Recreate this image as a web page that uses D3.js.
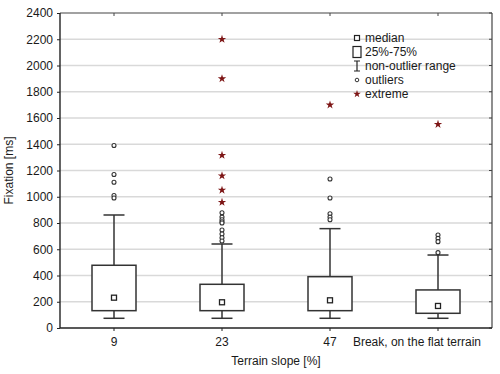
<!DOCTYPE html>
<html>
<head>
<meta charset="utf-8">
<script src="https://cdn.jsdelivr.net/npm/d3@7"></script>
<style>
  body { margin: 0; background: #fff; }
  text { font-family: "Liberation Sans", Arial, sans-serif; fill: #1a1a1a; }
</style>
</head>
<body>
<div id="chart"></div>
<script>
// Box plot data
var categories = ["9", "23", "47", "Break, on the flat terrain"];
var q1 = [132, 132, 132, 112];
var q3 = [478, 333, 391, 290];
var medians = [231, 196, 211, 168];
var whiskerLow = [74, 74, 74, 74];
var whiskerHigh = [861, 640, 757, 556];
var outliers = [
  [1390, 1170, 1110, 1010, 990],
  [878, 845, 825, 810, 800, 747, 716, 688, 663],
  [1135, 990, 870, 845, 825],
  [709, 683, 658, 574]
];
var extremes = [
  [],
  [2200, 1900, 1316, 1160, 1051, 958],
  [1700],
  [1552]
];
var yTicks = d3.range(0, 2401, 200);
var legendItems = ["median", "25%-75%", "non-outlier range", "outliers", "extreme"];

var width = 500;
var height = 374;
var margin = { top: 13, right: 8, bottom: 46, left: 60 };
var plotW = width - margin.left - margin.right;
var plotH = height - margin.top - margin.bottom;

var svg = d3.select("#chart")
  .append("svg")
  .attr("width", width)
  .attr("height", height);

var g = svg.append("g")
  .attr("transform", "translate(" + margin.left + "," + margin.top + ")");

var xScale = d3.scaleBand().domain(categories).range([0, plotW]).padding(0);
var yScale = d3.scaleLinear().domain([0, 2400]).range([plotH, 0]);

// Grid lines
g.append("g")
  .selectAll("line")
  .data(yTicks.filter(function(d) { return d > 0 && d < 2400; }))
  .enter()
  .append("line")
  .attr("x1", 0)
  .attr("x2", plotW)
  .attr("y1", function(d) { return yScale(d); })
  .attr("y2", function(d) { return yScale(d); })
  .attr("stroke", "#d9d9d9")
  .attr("stroke-width", 1.3);

// Frame (top and right)
g.append("line").attr("x1", 0).attr("x2", plotW).attr("y1", 0).attr("y2", 0)
  .attr("stroke", "#444").attr("stroke-width", 1.2);
g.append("line").attr("x1", plotW).attr("x2", plotW).attr("y1", 0).attr("y2", plotH)
  .attr("stroke", "#444").attr("stroke-width", 1.2);

// inward ticks on right and top
g.append("g").selectAll("line").data(yTicks).enter().append("line")
  .attr("x1", plotW - 3).attr("x2", plotW)
  .attr("y1", function(d) { return yScale(d); })
  .attr("y2", function(d) { return yScale(d); })
  .attr("stroke", "#444");
g.append("g").selectAll("line").data(categories).enter().append("line")
  .attr("x1", function(d) { return xScale(d) + xScale.bandwidth() / 2; })
  .attr("x2", function(d) { return xScale(d) + xScale.bandwidth() / 2; })
  .attr("y1", 0).attr("y2", 3)
  .attr("stroke", "#444");

// Axes
var yAxis = d3.axisLeft(yScale).tickValues(yTicks).tickFormat(d3.format("d")).tickSize(3).tickPadding(4);
var xAxis = d3.axisBottom(xScale).tickSize(3).tickPadding(6);

var yG = g.append("g").call(yAxis);
var xG = g.append("g").attr("transform", "translate(0," + plotH + ")").call(xAxis);

[yG, xG].forEach(function(a) {
  a.select(".domain").attr("stroke", "#222").attr("stroke-width", 1.4);
  a.selectAll(".tick line").attr("stroke", "#222");
  a.selectAll(".tick text")
    .attr("font-size", 12)
    .attr("font-family", "Liberation Sans, Arial, sans-serif")
    .attr("fill", "#1a1a1a");
});
yG.select(".domain").attr("d", "M0," + plotH + "V0");
xG.select(".domain").attr("d", "M0,0H" + plotW);

// long last label sits to the left of its tick
xG.selectAll(".tick text")
  .filter(function(d) { return d === categories[categories.length - 1]; })
  .attr("text-anchor", "end")
  .attr("x", 43);

// Box plots
var boxW = 44;
var capW = 21;
var stroke = "#333";

categories.forEach(function(c, i) {
  var cx = xScale(c) + xScale.bandwidth() / 2;
  var bg = g.append("g");

  // whisker line
  bg.append("line")
    .attr("x1", cx).attr("x2", cx)
    .attr("y1", yScale(whiskerHigh[i])).attr("y2", yScale(q3[i]))
    .attr("stroke", stroke).attr("stroke-width", 1.5);
  bg.append("line")
    .attr("x1", cx).attr("x2", cx)
    .attr("y1", yScale(q1[i])).attr("y2", yScale(whiskerLow[i]))
    .attr("stroke", stroke).attr("stroke-width", 1.5);
  // caps
  [whiskerHigh[i], whiskerLow[i]].forEach(function(v) {
    bg.append("line")
      .attr("x1", cx - capW / 2).attr("x2", cx + capW / 2)
      .attr("y1", yScale(v)).attr("y2", yScale(v))
      .attr("stroke", stroke).attr("stroke-width", 1.5);
  });
  // box
  bg.append("rect")
    .attr("x", cx - boxW / 2)
    .attr("y", yScale(q3[i]))
    .attr("width", boxW)
    .attr("height", yScale(q1[i]) - yScale(q3[i]))
    .attr("fill", "#fff")
    .attr("stroke", stroke)
    .attr("stroke-width", 1.5);
  // median
  bg.append("rect")
    .attr("x", cx - 2.5)
    .attr("y", yScale(medians[i]) - 2.5)
    .attr("width", 5).attr("height", 5)
    .attr("fill", "#fff")
    .attr("stroke", "#222")
    .attr("stroke-width", 1.3);

  // outliers
  bg.selectAll(".outlier")
    .data(outliers[i])
    .enter()
    .append("circle")
    .attr("class", "outlier")
    .attr("cx", cx)
    .attr("cy", function(d) { return yScale(d); })
    .attr("r", 2)
    .attr("fill", "#fff")
    .attr("stroke", "#333")
    .attr("stroke-width", 1.1);

  // extremes
  bg.selectAll(".extreme")
    .data(extremes[i])
    .enter()
    .append("path")
    .attr("class", "extreme")
    .attr("d", d3.symbol().type(d3.symbolStar).size(22))
    .attr("transform", function(d) { return "translate(" + cx + "," + yScale(d) + ")"; })
    .attr("fill", "#7d1515");
});

// Axis titles
svg.append("text")
  .attr("x", margin.left + plotW / 2)
  .attr("y", 365)
  .attr("text-anchor", "middle")
  .attr("font-size", 12)
  .text("Terrain slope [%]");

svg.append("text")
  .attr("transform", "translate(13," + (margin.top + plotH / 2) + ")rotate(-90)")
  .attr("text-anchor", "middle")
  .attr("font-size", 12)
  .text("Fixation [ms]");

// Legend
var legend = svg.append("g").attr("transform", "translate(357,38)");
legendItems.forEach(function(name, i) {
  var ly = i * 14;
  var lg = legend.append("g").attr("transform", "translate(0," + ly + ")");
  if (i === 0) {
    lg.append("rect").attr("x", -2.5).attr("y", -2.5).attr("width", 5).attr("height", 5)
      .attr("fill", "#fff").attr("stroke", "#222").attr("stroke-width", 1.2);
  } else if (i === 1) {
    lg.append("rect").attr("x", -4).attr("y", -5.5).attr("width", 8).attr("height", 11)
      .attr("fill", "#fff").attr("stroke", "#222").attr("stroke-width", 1.2);
  } else if (i === 2) {
    lg.append("path").attr("d", "M-3,-5H3M0,-5V5M-3,5H3")
      .attr("fill", "none").attr("stroke", "#222").attr("stroke-width", 1.2);
  } else if (i === 3) {
    lg.append("circle").attr("r", 1.8).attr("fill", "#fff").attr("stroke", "#333");
  } else {
    lg.append("path").attr("d", d3.symbol().type(d3.symbolStar).size(18)).attr("fill", "#7d1515");
  }
  lg.append("text")
    .attr("x", 8)
    .attr("y", 4)
    .attr("font-size", 12)
    .text(name);
});
</script>
</body>
</html>
